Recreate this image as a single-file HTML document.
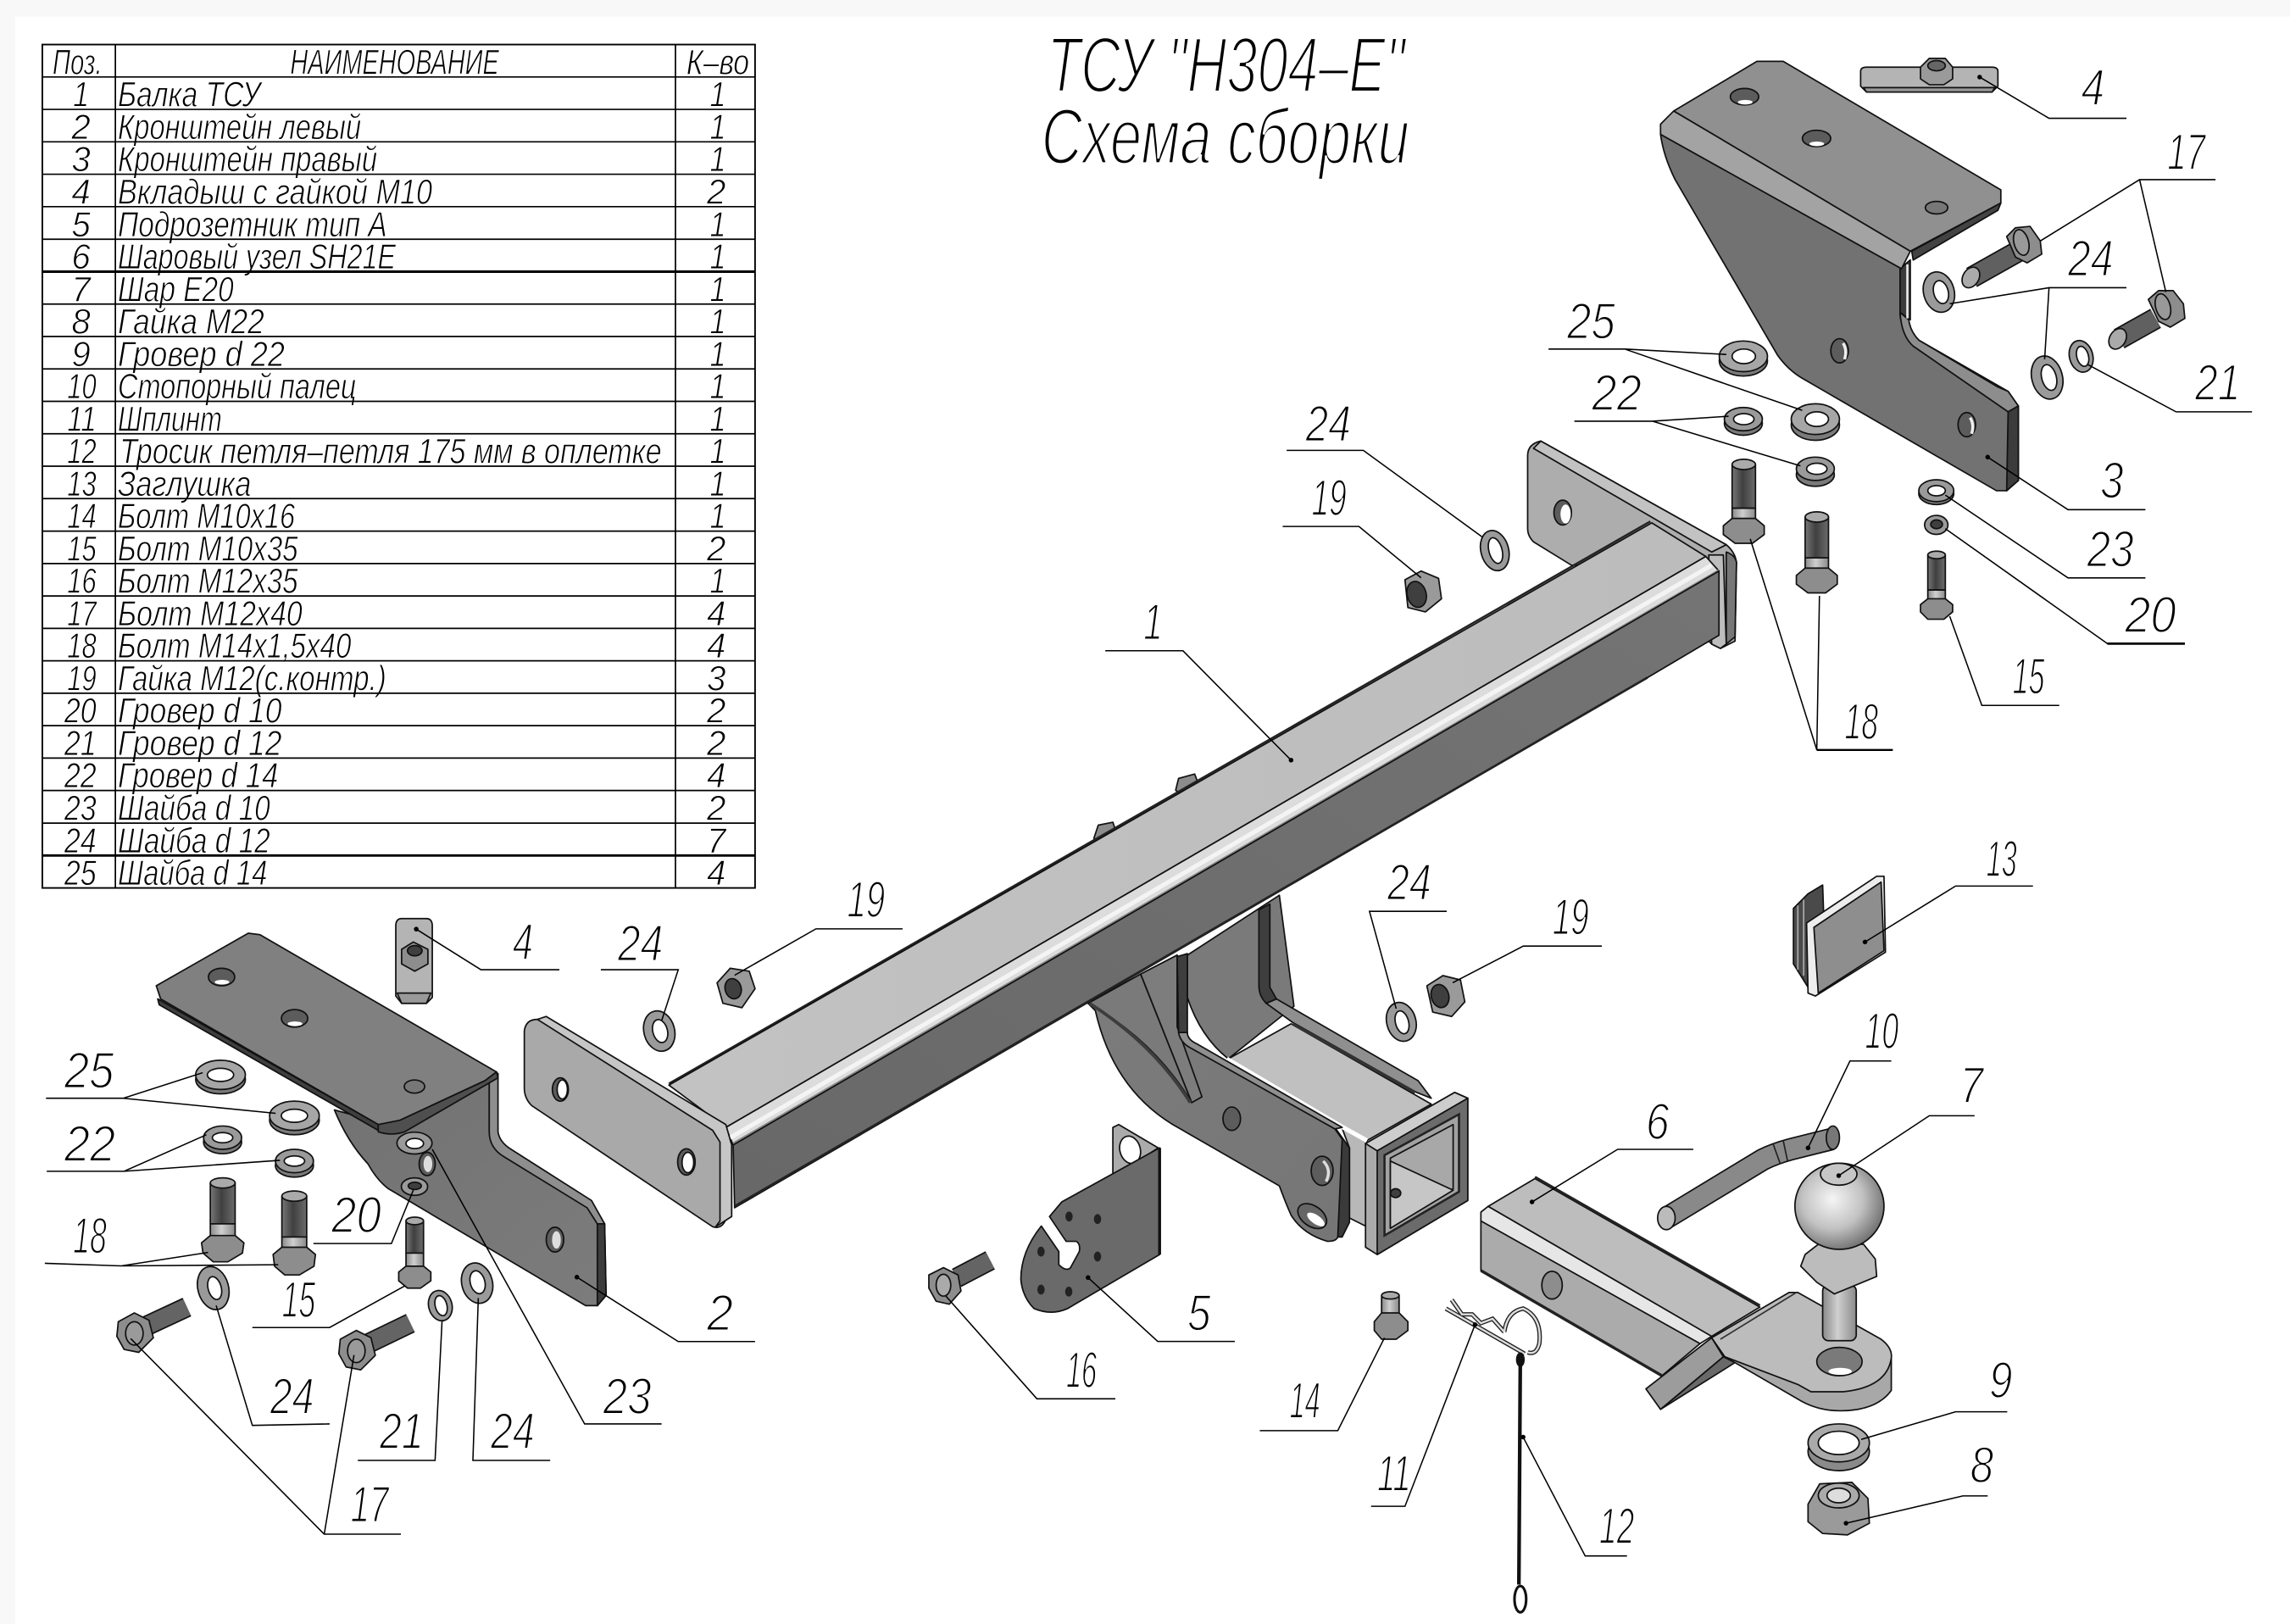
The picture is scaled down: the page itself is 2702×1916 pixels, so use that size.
<!DOCTYPE html>
<html lang="ru"><head><meta charset="utf-8"><title>ТСУ Н304-Е</title>
<style>
html,body{margin:0;padding:0;background:#f8f8f8}
svg{display:block;width:2702px;height:1916px}
text{font-family:"Liberation Sans","DejaVu Sans",sans-serif;font-style:italic;fill:#000}
.t{font-size:24px;stroke:#fff;stroke-width:.55px}
.l{font-size:35px;stroke:#fff;stroke-width:1.1px}
.b{font-size:54px;stroke:#fff;stroke-width:1.9px}
.s{stroke:#111;stroke-width:1;stroke-linejoin:round}
.w{fill:#9a9a9a;stroke:#111;stroke-width:1}
.d{fill:#5c5c5c;stroke:#111;stroke-width:1}
.h{fill:#fff;stroke:#111;stroke-width:1}
.o{fill:#3f3f3f;stroke:#111;stroke-width:1}
.x{fill:#8d8d8d;stroke:#111;stroke-width:1;stroke-linejoin:round}
.ld{fill:none;stroke:#000;stroke-width:.9}
.tb{stroke:#000;stroke-width:1}
</style></head><body>
<svg viewBox="0 0 1568 1112" preserveAspectRatio="none" xmlns="http://www.w3.org/2000/svg">
<defs>
<linearGradient id="side" x1="0" y1="1" x2="1" y2="0"><stop offset="0" stop-color="#686868"/><stop offset="1" stop-color="#747474"/></linearGradient>
<linearGradient id="top" x1="0" y1="0" x2="1" y2="0"><stop offset="0" stop-color="#c2c2c2"/><stop offset="1" stop-color="#bcbcbc"/></linearGradient>
<linearGradient id="plate" x1="0" y1="0" x2="1" y2="1"><stop offset="0" stop-color="#727272"/><stop offset="1" stop-color="#7c7c7c"/></linearGradient>
<linearGradient id="plate2" x1="0" y1="0" x2="1" y2="1"><stop offset="0" stop-color="#7c7c7c"/><stop offset="1" stop-color="#767676"/></linearGradient>
<linearGradient id="shaft" x1="0" y1="0" x2="1" y2="0"><stop offset="0" stop-color="#777"/><stop offset=".45" stop-color="#404040"/><stop offset="1" stop-color="#6c6c6c"/></linearGradient>
<linearGradient id="shaft2" x1="0" y1="0" x2="1" y2="0"><stop offset="0" stop-color="#8a8a8a"/><stop offset=".45" stop-color="#cfcfcf"/><stop offset="1" stop-color="#8a8a8a"/></linearGradient>
<radialGradient id="ball" cx=".42" cy=".42" r=".62"><stop offset="0" stop-color="#f5f5f5"/><stop offset=".55" stop-color="#c2c2c2"/><stop offset="1" stop-color="#6d6d6d"/></radialGradient>
</defs>
<rect width="1568" height="1112" fill="#f8f8f8"/>
<rect x="10.4" y="11.4" width="1558" height="1101" fill="#fff"/>

<!-- table text -->
<text class="t" x="36" y="50.7" textLength="34" lengthAdjust="spacingAndGlyphs">Поз.</text>
<text class="t" x="198.7" y="50.7" textLength="143" lengthAdjust="spacingAndGlyphs">НАИМЕНОВАНИЕ</text>
<text class="t" x="470" y="50.7" textLength="43" lengthAdjust="spacingAndGlyphs">К–во</text>

<text class="t" x="50" y="72.9" textLength="11" lengthAdjust="spacingAndGlyphs">1</text><text class="t" x="80.7" y="72.9" textLength="97.7" lengthAdjust="spacingAndGlyphs">Балка ТСУ</text><text class="t" x="486" y="72.9" textLength="11" lengthAdjust="spacingAndGlyphs">1</text>
<text class="t" x="49" y="95.1" textLength="13" lengthAdjust="spacingAndGlyphs">2</text><text class="t" x="80.7" y="95.1" textLength="166.6" lengthAdjust="spacingAndGlyphs">Кронштейн левый</text><text class="t" x="486" y="95.1" textLength="11" lengthAdjust="spacingAndGlyphs">1</text>
<text class="t" x="49" y="117.3" textLength="13" lengthAdjust="spacingAndGlyphs">3</text><text class="t" x="80.7" y="117.3" textLength="177.6" lengthAdjust="spacingAndGlyphs">Кронштейн правый</text><text class="t" x="486" y="117.3" textLength="11" lengthAdjust="spacingAndGlyphs">1</text>
<text class="t" x="49" y="139.5" textLength="13" lengthAdjust="spacingAndGlyphs">4</text><text class="t" x="80.7" y="139.5" textLength="215.3" lengthAdjust="spacingAndGlyphs">Вкладыш с гайкой М10</text><text class="t" x="484" y="139.5" textLength="13" lengthAdjust="spacingAndGlyphs">2</text>
<text class="t" x="49" y="161.8" textLength="13" lengthAdjust="spacingAndGlyphs">5</text><text class="t" x="80.7" y="161.8" textLength="184.3" lengthAdjust="spacingAndGlyphs">Подрозетник тип А</text><text class="t" x="486" y="161.8" textLength="11" lengthAdjust="spacingAndGlyphs">1</text>
<text class="t" x="49" y="184" textLength="13" lengthAdjust="spacingAndGlyphs">6</text><text class="t" x="80.7" y="184" textLength="190.3" lengthAdjust="spacingAndGlyphs">Шаровый узел SH21E</text><text class="t" x="486" y="184" textLength="11" lengthAdjust="spacingAndGlyphs">1</text>
<text class="t" x="49" y="206.2" textLength="13" lengthAdjust="spacingAndGlyphs">7</text><text class="t" x="80.7" y="206.2" textLength="79.3" lengthAdjust="spacingAndGlyphs">Шар Е20</text><text class="t" x="486" y="206.2" textLength="11" lengthAdjust="spacingAndGlyphs">1</text>
<text class="t" x="49" y="228.4" textLength="13" lengthAdjust="spacingAndGlyphs">8</text><text class="t" x="80.7" y="228.4" textLength="100.3" lengthAdjust="spacingAndGlyphs">Гайка М22</text><text class="t" x="486" y="228.4" textLength="11" lengthAdjust="spacingAndGlyphs">1</text>
<text class="t" x="49" y="250.6" textLength="13" lengthAdjust="spacingAndGlyphs">9</text><text class="t" x="80.7" y="250.6" textLength="114.3" lengthAdjust="spacingAndGlyphs">Гровер d 22</text><text class="t" x="486" y="250.6" textLength="11" lengthAdjust="spacingAndGlyphs">1</text>
<text class="t" x="46" y="272.8" textLength="20" lengthAdjust="spacingAndGlyphs">10</text><text class="t" x="80.7" y="272.8" textLength="163.3" lengthAdjust="spacingAndGlyphs">Стопорный палец</text><text class="t" x="486" y="272.8" textLength="11" lengthAdjust="spacingAndGlyphs">1</text>
<text class="t" x="46" y="295" textLength="20" lengthAdjust="spacingAndGlyphs">11</text><text class="t" x="80.7" y="295" textLength="71.3" lengthAdjust="spacingAndGlyphs">Шплинт</text><text class="t" x="486" y="295" textLength="11" lengthAdjust="spacingAndGlyphs">1</text>
<text class="t" x="46" y="317.2" textLength="20" lengthAdjust="spacingAndGlyphs">12</text><text class="t" x="82" y="317.2" textLength="371" lengthAdjust="spacingAndGlyphs">Тросик петля–петля 175 мм в оплетке</text><text class="t" x="486" y="317.2" textLength="11" lengthAdjust="spacingAndGlyphs">1</text>
<text class="t" x="46" y="339.4" textLength="20" lengthAdjust="spacingAndGlyphs">13</text><text class="t" x="80.7" y="339.4" textLength="91.3" lengthAdjust="spacingAndGlyphs">Заглушка</text><text class="t" x="486" y="339.4" textLength="11" lengthAdjust="spacingAndGlyphs">1</text>
<text class="t" x="46" y="361.7" textLength="20" lengthAdjust="spacingAndGlyphs">14</text><text class="t" x="80.7" y="361.7" textLength="121.3" lengthAdjust="spacingAndGlyphs">Болт М10х16</text><text class="t" x="486" y="361.7" textLength="11" lengthAdjust="spacingAndGlyphs">1</text>
<text class="t" x="46" y="383.9" textLength="20" lengthAdjust="spacingAndGlyphs">15</text><text class="t" x="80.7" y="383.9" textLength="123.3" lengthAdjust="spacingAndGlyphs">Болт М10х35</text><text class="t" x="484" y="383.9" textLength="13" lengthAdjust="spacingAndGlyphs">2</text>
<text class="t" x="46" y="406.1" textLength="20" lengthAdjust="spacingAndGlyphs">16</text><text class="t" x="80.7" y="406.1" textLength="123.3" lengthAdjust="spacingAndGlyphs">Болт М12х35</text><text class="t" x="486" y="406.1" textLength="11" lengthAdjust="spacingAndGlyphs">1</text>
<text class="t" x="46" y="428.3" textLength="20" lengthAdjust="spacingAndGlyphs">17</text><text class="t" x="80.7" y="428.3" textLength="126.3" lengthAdjust="spacingAndGlyphs">Болт М12х40</text><text class="t" x="484" y="428.3" textLength="13" lengthAdjust="spacingAndGlyphs">4</text>
<text class="t" x="46" y="450.5" textLength="20" lengthAdjust="spacingAndGlyphs">18</text><text class="t" x="80.7" y="450.5" textLength="159.8" lengthAdjust="spacingAndGlyphs">Болт М14х1,5х40</text><text class="t" x="484" y="450.5" textLength="13" lengthAdjust="spacingAndGlyphs">4</text>
<text class="t" x="46" y="472.7" textLength="20" lengthAdjust="spacingAndGlyphs">19</text><text class="t" x="80.7" y="472.7" textLength="183.8" lengthAdjust="spacingAndGlyphs">Гайка М12(с.контр.)</text><text class="t" x="484" y="472.7" textLength="13" lengthAdjust="spacingAndGlyphs">3</text>
<text class="t" x="44" y="494.9" textLength="22" lengthAdjust="spacingAndGlyphs">20</text><text class="t" x="80.7" y="494.9" textLength="112.3" lengthAdjust="spacingAndGlyphs">Гровер d 10</text><text class="t" x="484" y="494.9" textLength="13" lengthAdjust="spacingAndGlyphs">2</text>
<text class="t" x="44" y="517.1" textLength="22" lengthAdjust="spacingAndGlyphs">21</text><text class="t" x="80.7" y="517.1" textLength="112.3" lengthAdjust="spacingAndGlyphs">Гровер d 12</text><text class="t" x="484" y="517.1" textLength="13" lengthAdjust="spacingAndGlyphs">2</text>
<text class="t" x="44" y="539.3" textLength="22" lengthAdjust="spacingAndGlyphs">22</text><text class="t" x="80.7" y="539.3" textLength="109.8" lengthAdjust="spacingAndGlyphs">Гровер d 14</text><text class="t" x="484" y="539.3" textLength="13" lengthAdjust="spacingAndGlyphs">4</text>
<text class="t" x="44" y="561.6" textLength="22" lengthAdjust="spacingAndGlyphs">23</text><text class="t" x="80.7" y="561.6" textLength="104.3" lengthAdjust="spacingAndGlyphs">Шайба d 10</text><text class="t" x="484" y="561.6" textLength="13" lengthAdjust="spacingAndGlyphs">2</text>
<text class="t" x="44" y="583.8" textLength="22" lengthAdjust="spacingAndGlyphs">24</text><text class="t" x="80.7" y="583.8" textLength="104.3" lengthAdjust="spacingAndGlyphs">Шайба d 12</text><text class="t" x="484" y="583.8" textLength="13" lengthAdjust="spacingAndGlyphs">7</text>
<text class="t" x="44" y="606" textLength="22" lengthAdjust="spacingAndGlyphs">25</text><text class="t" x="80.7" y="606" textLength="102.3" lengthAdjust="spacingAndGlyphs">Шайба d 14</text><text class="t" x="484" y="606" textLength="13" lengthAdjust="spacingAndGlyphs">4</text>

<!-- table lines -->
<g class="tb" fill="none">
<rect x="29" y="30.5" width="488" height="577.5" stroke="#000" stroke-width="1.1"/>
<path stroke="#000" stroke-width="1" d="M79 30.5V608M462.5 30.5V608M29 52.7H517M29 74.9H517M29 97.1H517M29 119.3H517M29 141.5H517M29 163.8H517M29 208.2H517M29 230.4H517M29 252.6H517M29 274.8H517M29 297H517M29 319.2H517M29 341.4H517M29 363.7H517M29 385.9H517M29 408.1H517M29 430.3H517M29 452.5H517M29 474.7H517M29 496.9H517M29 519.1H517M29 541.3H517M29 563.6H517"/>
<path stroke="#000" stroke-width="1.7" d="M29 186H517M29 585.8H517"/>
</g>

<!-- title -->
<text class="b" x="717" y="63" textLength="245" lengthAdjust="spacingAndGlyphs">ТСУ "Н304–Е"</text>
<text class="b" x="713" y="112" textLength="252" lengthAdjust="spacingAndGlyphs">Схема сборки</text>

<!-- rear bracket plate -->
<path class="s" fill="#7a7a7a" d="M813 654L876 613L886 689L841 725Q822 710 813 683Z"/>
<!-- receiver top -->
<path class="s" fill="#c0c0c0" d="M841 725L884 701L980 756L936 781Z"/>
<path class="s" fill="#8f8f8f" d="M867 687L874 684L971 740L980 752L970 748L885 700Z"/>
<path d="M885 701L969 748" stroke="#333" stroke-width="2" fill="none"/>
<path class="s" fill="#3e3e3e" d="M862 623L869.5 619L869.5 676L874 684L867 687Q862 682 862 675Z"/>
<!-- receiver side -->
<path class="s" fill="#b8b8b8" d="M918 770L936 781L936 840L924 834L924 786Z"/>
<path d="M840 725L918 771L936 781" stroke="#fff" stroke-width="3" fill="none"/>
<!-- front plate -->
<path class="s" fill="#3a3a3a" d="M914 772L924 786L924 837L919 847L914 847Z"/>
<path class="s" fill="url(#plate2)" d="M750 692Q762 745 803 770L876 812Q880 823 884 832Q892 845 909 850Q915 850 916 847L919 780L914 773L820 717Q813 712 813 708L806 654L781 667L745 687Z"/>
<path class="s" fill="#7d7d7d" d="M781 667L806 654L806 703L823 751L816 755Z"/>
<path class="s" fill="#7a7a7a" d="M745 687L781 667L816 755Q790 712 745 687Z"/>
<path d="M746 687Q790 715 815 755" stroke="#3d3d3d" stroke-width="2.2" fill="none"/>
<path class="s" fill="#3e3e3e" d="M806 655L813 653L813 707L807 707Z"/>
<path class="s" fill="#8f8f8f" d="M807 707L813 707Q813 712 820 715L919 772L914 773L816 718Q808 714 807 707Z"/>
<ellipse class="s" cx="843.4" cy="766" rx="6" ry="8" fill="#5c5c5c"/>
<ellipse class="s" cx="905.3" cy="801.7" rx="7.5" ry="10" fill="#5c5c5c"/>
<path d="M906 795Q912 801 908 809" stroke="#ddd" stroke-width="2" fill="none"/>
<ellipse class="s" cx="898.5" cy="832.7" rx="11" ry="7" fill="#666" transform="rotate(35 898.5 832.7)"/>
<ellipse cx="901" cy="835" rx="7" ry="3" fill="#fff" transform="rotate(35 901 835)"/>
<!-- receiver flange -->
<path class="s" fill="#ababab" d="M935 783L996 748L1005 752L1005 822L943 859L935 854Z"/>
<path class="s" fill="#cdcdcd" d="M935 783L996 748L1005 752L943 788Z"/>
<path class="s" fill="#6b6b6b" d="M943 788L1005 752L1005 822L943 859Z"/>
<path class="s" fill="#a2a2a2" d="M948 791L999 763L999 816L948 846Z"/>
<path d="M948 791L999 763L999 816L948 846Z" fill="none" stroke="#222" stroke-width="1.5"/>
<path class="s" fill="#a8a8a8" d="M952 793L995 770L995 814L952 841Z"/>
<path class="s" fill="#c6c6c6" d="M952 795L995 815L952 841Z"/>
<ellipse class="o" cx="955.6" cy="817" rx="3.5" ry="3"/>

<!-- beam ears -->
<path class="s" fill="#8c8c8c" d="M749 574L752 565L762 563L765 572L754 580Z"/>
<path class="s" fill="#8c8c8c" d="M805 541L807 533L818 530L821 538L810 546Z"/>

<!-- right flange -->
<path class="s" fill="#adadad" d="M1046 312Q1046 304 1055 302L1182 373Q1188 378 1189 385L1188 439L1178 444L1172 441L1120 387L1076 387L1050 371Q1046 367 1046 362Z"/>
<path class="s" fill="#c2c2c2" d="M1055 302L1182 373L1172 378L1050 307Z"/>
<path class="s" fill="#777" d="M1182 378Q1188 380 1189 385L1188 436L1182 441Z"/>
<path class="s" fill="#bdbdbd" d="M1170 380L1180 380L1182 441L1178 444L1172 441Z"/>
<ellipse class="s" cx="1070" cy="351" rx="6" ry="8.5" fill="#5c5c5c"/>
<ellipse cx="1072" cy="352" rx="3.5" ry="6.5" fill="#fff"/>
<!-- beam -->
<path d="M458 742L1130 357" stroke="#222" stroke-width="1.4" fill="none"/>
<path class="s" fill="url(#top)" d="M458 743L1131 358L1168 381L497 772Z"/>
<path class="s" fill="#dcdcdc" d="M497 772L1168 381L1177 391L502 784Z"/>
<path d="M500 779L1172 387" stroke="#f4f4f4" stroke-width="3" fill="none"/>
<path d="M502 783L1177 390.5" stroke="#888" stroke-width="1.5" fill="none"/>
<path class="s" fill="url(#side)" d="M502 784L1177 391L1177 435L1128 464L503 827Z"/>
<path d="M503 826L1128 464" stroke="#222" stroke-width="1.6" fill="none"/>
<!-- left flange plate -->
<path class="s" fill="#a9a9a9" d="M359 706Q360 698 368 698L491 770Q497 774 497 784L497 835Q494 842 488 840L364 757Q359 752 359 745Z"/>
<path class="s" fill="#c6c6c6" d="M368 698L374 696L497 770L501 784L501 833L490 840L493 836L493 782L488 774Z"/>
<ellipse class="d" cx="383.7" cy="746" rx="5.5" ry="8"/><ellipse class="h" cx="385" cy="746" rx="3.5" ry="6.5"/>
<ellipse class="d" cx="470" cy="795.6" rx="6" ry="9"/><ellipse class="h" cx="471" cy="796" rx="4" ry="7"/>

<!-- part 3 -->
<path class="s" fill="#727272" d="M1137 92Q1139 107 1147 123L1217 243Q1224 253 1234 259L1367 336L1374 336L1382 329L1382 278L1375 268L1314 233Q1301 227 1301 214L1302 184Z"/>
<path class="s" fill="#8d8d8d" d="M1314 233L1368 265L1375 268L1382 278L1375 282L1310 237Q1302 230 1301 214L1307 219Q1308 227 1314 233Z"/>
<path class="s" fill="#3c3c3c" d="M1301 184L1308 178L1308 219L1301 214Z"/>
<path d="M1306 181L1306 218" stroke="#eee" stroke-width="1.5" fill="none"/>
<path class="s" fill="#3c3c3c" d="M1375 282L1382 278L1382 329L1374 336Z"/>
<path class="s" fill="#909090" d="M1146 76L1203 42L1221 42L1370 130L1370 139L1308 172Z"/>
<path class="s" fill="#a3a3a3" d="M1146 76L1308 172L1302 184L1137 92L1137 85Z"/>
<path class="s" fill="#434343" d="M1309 172L1370 139L1368 144L1310 178Z"/>
<ellipse class="d" cx="1194.5" cy="66.2" rx="9.7" ry="5.6"/><ellipse cx="1195" cy="70" rx="5" ry="1.6" fill="#fff"/>
<ellipse class="d" cx="1243.8" cy="94.8" rx="9.7" ry="5.6"/><ellipse cx="1244" cy="98.5" rx="5" ry="1.6" fill="#fff"/>
<ellipse class="d" cx="1326" cy="142.2" rx="7.7" ry="4.3" style="fill:#777"/>
<ellipse class="d" cx="1259.6" cy="240.2" rx="6" ry="8.3"/>
<path d="M1262 235Q1265 240 1263 246" stroke="#eee" stroke-width="2" fill="none"/>
<ellipse class="d" cx="1346.7" cy="290.8" rx="6" ry="8.3"/>
<path d="M1349 286Q1352 291 1350 297" stroke="#eee" stroke-width="2" fill="none"/>

<!-- part 4 top -->
<path class="s" fill="#b4b4b4" d="M1274 49Q1274 46 1278 46L1364 46Q1368 46 1368 49L1368 59L1364 63L1278 63L1274 59Z"/>
<path class="s" fill="#999" d="M1276 60L1366 60L1364 63L1278 63Z"/>
<polygon class="x" points="1315,46 1321,40 1332,40 1337,46 1337,54 1331,58 1321,58 1315,54" style="fill:#9a9a9a"/>
<ellipse class="s" cx="1326" cy="45" rx="6" ry="3.5" fill="#666"/>

<!-- bolts 17 right -->
<path d="M1350 190L1382 172" stroke="#111" stroke-width="15" fill="none"/><path d="M1350 190L1382 172" stroke="#606060" stroke-width="13" fill="none"/>
<ellipse class="s" cx="1349.5" cy="190" rx="5.5" ry="7.5" fill="#aaa" transform="rotate(30 1349.5 190)"/>
<polygon class="x" points="1374,162 1380,156 1390,155 1397,165 1398,174 1388,180 1380,176"/>
<ellipse class="s" cx="1384" cy="166" rx="5" ry="9" fill="#999" transform="rotate(-15 1384 166)"/>
<path d="M1451 232L1476 218" stroke="#111" stroke-width="15" fill="none"/><path d="M1451 232L1476 218" stroke="#606060" stroke-width="13" fill="none"/>
<ellipse class="s" cx="1450" cy="232" rx="5.5" ry="7.5" fill="#aaa" transform="rotate(30 1450 232)"/>
<polygon class="x" points="1471,205 1478,199 1488,199 1495,208 1496,218 1486,224 1478,220"/>
<ellipse class="s" cx="1481" cy="210" rx="5" ry="9" fill="#999" transform="rotate(-15 1481 210)"/>

<!-- washers upper right -->
<ellipse class="w" cx="1327.6" cy="200" rx="10.5" ry="14" transform="rotate(-15 1327.6 200)"/><ellipse class="h" cx="1329" cy="200" rx="5" ry="8" transform="rotate(-15 1329 200)"/>
<ellipse class="w" cx="1401.7" cy="258.5" rx="10.5" ry="15" transform="rotate(-15 1401.7 258.5)"/><ellipse class="h" cx="1403" cy="258.5" rx="5" ry="9" transform="rotate(-15 1403 258.5)"/>
<ellipse class="w" cx="1425" cy="244" rx="8" ry="11" transform="rotate(-15 1425 244)"/><ellipse class="h" cx="1426" cy="244" rx="4" ry="7" transform="rotate(-15 1426 244)"/>
<ellipse class="d" cx="1193.7" cy="247" rx="16.5" ry="10.5" style="fill:#7a7a7a"/><ellipse class="w" cx="1193.7" cy="244" rx="16.5" ry="10.5" style="fill:#a6a6a6"/><ellipse class="h" cx="1194" cy="244" rx="8" ry="5"/>
<ellipse class="d" cx="1243" cy="291" rx="16.5" ry="10.5" style="fill:#7a7a7a"/><ellipse class="w" cx="1243" cy="287" rx="16.5" ry="10.5" style="fill:#a6a6a6"/><ellipse class="h" cx="1244" cy="287" rx="8" ry="5"/>
<ellipse class="d" cx="1193.7" cy="290" rx="13" ry="8" style="fill:#7a7a7a"/><ellipse class="w" cx="1193.7" cy="287" rx="13" ry="8"/><ellipse class="h" cx="1194" cy="287" rx="7" ry="3.8"/>
<ellipse class="d" cx="1243" cy="325" rx="13" ry="8" style="fill:#7a7a7a"/><ellipse class="w" cx="1243" cy="321" rx="13" ry="8"/><ellipse class="h" cx="1244" cy="321" rx="7" ry="3.8"/>
<ellipse class="d" cx="1325.8" cy="338" rx="12" ry="7.5" style="fill:#7a7a7a"/><ellipse class="w" cx="1325.8" cy="336" rx="12" ry="7.5"/><ellipse class="h" cx="1326" cy="336" rx="6" ry="3.5"/>
<ellipse class="w" cx="1325.8" cy="359.4" rx="8" ry="6.5"/><ellipse class="o" cx="1326" cy="359" rx="4" ry="3"/>

<!-- bolts 18/15 right -->
<rect class="s" x="1186" y="318" width="16" height="30" fill="url(#shaft)"/>
<rect class="s" x="1186" y="348" width="16" height="12" fill="url(#shaft2)"/>
<ellipse class="s" cx="1194" cy="318" rx="8" ry="3.5" fill="#aaa"/>
<polygon class="x" points="1180,360 1186,355 1202,355 1208,360 1208,366 1200,372 1188,372 1180,366"/>
<rect class="s" x="1236" y="354" width="16" height="28" fill="url(#shaft)"/>
<rect class="s" x="1236" y="382" width="16" height="12" fill="url(#shaft2)"/>
<ellipse class="s" cx="1244" cy="354" rx="8" ry="3.5" fill="#aaa"/>
<polygon class="x" points="1230,394 1236,389 1252,389 1258,394 1258,400 1250,406 1238,406 1230,400"/>
<rect class="s" x="1320" y="380" width="12" height="24" fill="url(#shaft)"/>
<rect class="s" x="1320" y="404" width="12" height="8" fill="url(#shaft2)"/>
<ellipse class="s" cx="1326" cy="380" rx="6" ry="2.6" fill="#aaa"/>
<polygon class="x" points="1315,414 1320,410 1332,410 1337,414 1337,419 1331,424 1320,424 1315,419"/>

<!-- 24 & 19 near right flange -->
<ellipse class="w" cx="1023.5" cy="377" rx="9.5" ry="14" transform="rotate(-15 1023.5 377)"/><ellipse class="h" cx="1024" cy="377" rx="4.5" ry="9" transform="rotate(-15 1024 377)"/>
<polygon class="x" points="962,397 973,391 985,396 987,410 976,419 964,416" style="fill:#9a9a9a"/><ellipse class="o" cx="970" cy="407" rx="6.5" ry="9" transform="rotate(-15 970 407)"/>

<!-- part 2 -->
<path class="s" fill="url(#plate)" d="M229 760Q238 782 252 797Q258 808 266 814L401 894L409 894L415 887L414 838L405 824L346 790Q335 784 335 775L335 740L277 773Z"/>
<path class="s" fill="#8e8e8e" d="M335 740L341 735L341 775Q342 782 350 787L405 822L414 838L409 838L402 827L345 792Q335 786 335 775Z"/>
<path class="s" fill="#3c3c3c" d="M409 838L414 838L415 887L409 894Z"/>
<path class="s" fill="#808080" d="M107 675L170 639L178 640L340 734L332 740L274 767Q265 771 259 770L110 684Z"/>
<path class="s" fill="#3f3f3f" d="M108 684L259 770L259 774L109 688Z"/>
<path class="s" fill="#4f4f4f" d="M274 767L332 740L340 734L341 738L277 775Q268 778 259 775L259 770Z"/>
<ellipse class="d" cx="151.7" cy="669" rx="9" ry="6"/><ellipse cx="152" cy="672.5" rx="5" ry="1.6" fill="#fff"/>
<ellipse class="d" cx="201.7" cy="697.3" rx="9" ry="6"/><ellipse cx="202" cy="701" rx="5" ry="1.6" fill="#fff"/>
<ellipse class="d" cx="283.8" cy="744" rx="7" ry="4.5" style="fill:#777"/>
<ellipse class="d" cx="380" cy="848.8" rx="6" ry="8.5"/><ellipse cx="381" cy="849" rx="3" ry="6" fill="#ddd"/>
<ellipse class="d" cx="292.5" cy="797" rx="5.5" ry="8"/><ellipse cx="293" cy="797" rx="3" ry="5.5" fill="#ddd"/>

<!-- 4 left -->
<path class="s" fill="#b4b4b4" d="M271 634Q271 629 275 629L292 629Q296 629 296 634L296 683L292 687L275 687L271 682Z"/>
<path class="s" fill="#999" d="M272 680L295 680L292 687L275 687Z"/>
<polygon class="x" points="275,650 283,645 293,650 293,660 284,665 275,660"/><ellipse class="o" cx="284" cy="651" rx="5" ry="3.5"/>

<!-- hardware left -->
<polygon class="x" points="491,673 500,663 513,665 517,677 508,690 495,687" style="fill:#9a9a9a"/><ellipse class="o" cx="502" cy="677" rx="5.5" ry="7" transform="rotate(-15 502 677)"/>
<ellipse class="w" cx="451.4" cy="706" rx="10.5" ry="14" transform="rotate(-15 451.4 706)"/><ellipse class="h" cx="452" cy="706" rx="5" ry="8" transform="rotate(-15 452 706)"/>
<ellipse class="d" cx="151" cy="739" rx="17" ry="10" style="fill:#7a7a7a"/><ellipse class="w" cx="151" cy="736" rx="17" ry="10" style="fill:#a6a6a6"/><ellipse class="h" cx="151" cy="736" rx="9" ry="4.5"/>
<ellipse class="d" cx="201.6" cy="767" rx="17" ry="10" style="fill:#7a7a7a"/><ellipse class="w" cx="201.6" cy="764" rx="17" ry="10" style="fill:#a6a6a6"/><ellipse class="h" cx="201.6" cy="764" rx="9" ry="4.5"/>
<ellipse class="d" cx="152.4" cy="782" rx="13" ry="8" style="fill:#7a7a7a"/><ellipse class="w" cx="152.4" cy="779" rx="13" ry="8"/><ellipse class="h" cx="152.4" cy="779" rx="7" ry="3.5"/>
<ellipse class="d" cx="201.6" cy="798" rx="13" ry="8" style="fill:#7a7a7a"/><ellipse class="w" cx="201.6" cy="795" rx="13" ry="8"/><ellipse class="h" cx="201.6" cy="795" rx="7" ry="3.5"/>
<ellipse class="w" cx="283.8" cy="782.7" rx="12" ry="7.5"/><ellipse class="h" cx="284" cy="783" rx="6" ry="3.5"/>
<ellipse class="w" cx="283.8" cy="812.5" rx="9" ry="6"/><ellipse class="o" cx="284" cy="812" rx="4.5" ry="2.5"/>
<rect class="s" x="144" y="810" width="17" height="28" fill="url(#shaft)"/>
<rect class="s" x="144" y="838" width="17" height="13" fill="url(#shaft2)"/>
<ellipse class="s" cx="152.5" cy="810" rx="8.5" ry="3.5" fill="#aaa"/>
<polygon class="x" points="138,851 144,846 161,846 167,851 166,858 156,864 146,864 139,858"/>
<rect class="s" x="193" y="819" width="17" height="28" fill="url(#shaft)"/>
<rect class="s" x="193" y="847" width="17" height="12" fill="url(#shaft2)"/>
<ellipse class="s" cx="201.5" cy="819" rx="8.5" ry="3.5" fill="#aaa"/>
<polygon class="x" points="187,859 193,854 210,854 216,859 215,867 205,873 195,873 188,867"/>
<rect class="s" x="278" y="836" width="12" height="22" fill="url(#shaft)"/>
<rect class="s" x="278" y="858" width="12" height="10" fill="url(#shaft2)"/>
<ellipse class="s" cx="284" cy="836" rx="6" ry="2.6" fill="#aaa"/>
<polygon class="x" points="273,871 278,867 290,867 295,871 295,877 288,882 279,882 273,877"/>
<ellipse class="w" cx="146" cy="882" rx="10.5" ry="15" transform="rotate(-15 146 882)"/><ellipse class="h" cx="147" cy="882" rx="4.5" ry="8" transform="rotate(-15 147 882)"/>
<ellipse class="w" cx="326.7" cy="878.6" rx="10.5" ry="14" transform="rotate(-15 326.7 878.6)"/><ellipse class="h" cx="327" cy="878" rx="5" ry="8" transform="rotate(-15 327 878)"/>
<ellipse class="w" cx="301.5" cy="894" rx="8" ry="10.5" transform="rotate(-15 301.5 894)"/><ellipse class="h" cx="302" cy="894" rx="4" ry="7" transform="rotate(-15 302 894)"/>
<path d="M100 908L128 895" stroke="#111" stroke-width="14" fill="none"/><path d="M100 908L128 895" stroke="#646464" stroke-width="12" fill="none"/>
<polygon class="x" points="81,905 92,899 102,904 105,916 95,926 85,924 80,915"/><ellipse class="s" cx="92" cy="913" rx="6" ry="8" fill="#9a9a9a"/>
<path d="M252 920L281 906" stroke="#111" stroke-width="14" fill="none"/><path d="M252 920L281 906" stroke="#646464" stroke-width="12" fill="none"/>
<polygon class="x" points="233,917 244,911 254,916 257,928 247,938 237,936 232,927"/><ellipse class="s" cx="244" cy="925" rx="6" ry="8" fill="#9a9a9a"/>

<!-- part 5 -->
<path class="s" fill="#ababab" d="M762 772L766 770L793 786L762 806Z"/>
<ellipse class="h" cx="773.8" cy="787.3" rx="7" ry="9.5" transform="rotate(-15 773.8 787.3)"/>
<path class="s" fill="#6a6a6a" stroke-width="1.6" d="M794 786L794 859L731 896Q720 901 708 896Q700 888 699 876Q699 857 713 839.5L725 857L725 866Q730 871 733 868L739 857Q740 852 737 850L730 850L718.6 833L727 823Z"/>
<path d="M794 786L794 859" stroke="#111" stroke-width="2" fill="none"/>
<g fill="#222"><ellipse cx="732" cy="833" rx="2.5" ry="3.4"/><ellipse cx="751.5" cy="834.7" rx="2.5" ry="3.4"/><ellipse cx="712.8" cy="857" rx="2.5" ry="3.4"/><ellipse cx="751.5" cy="860.4" rx="2.5" ry="3.4"/><ellipse cx="712.8" cy="883" rx="2.5" ry="3.4"/><ellipse cx="731.8" cy="884.4" rx="2.5" ry="3.4"/></g>

<!-- bolt 16, 14 -->
<path d="M655 875L678 863" stroke="#111" stroke-width="14" fill="none"/><path d="M655 875L678 863" stroke="#646464" stroke-width="12" fill="none"/>
<polygon class="x" points="636,873 646,868 656,873 658,884 650,893 641,891 636,882"/>
<ellipse class="s" cx="646" cy="880" rx="5" ry="7.5" fill="#aaa"/>
<rect class="s" x="946" y="887" width="12" height="14" fill="url(#shaft2)"/>
<ellipse class="s" cx="952" cy="887" rx="6" ry="2.5" fill="#aaa"/>
<polygon class="x" points="941,905 946,899 958,899 964,905 964,911 956,917 946,917 941,911"/>

<!-- right hardware -->
<ellipse class="w" cx="959.5" cy="699.7" rx="10" ry="13.5" transform="rotate(-15 959.5 699.7)"/><ellipse class="h" cx="960" cy="700" rx="4.5" ry="8" transform="rotate(-15 960 700)"/>
<polygon class="x" points="977,675 988,668 1000,671 1003,686 994,696 981,693" style="fill:#9a9a9a"/><ellipse class="o" cx="986" cy="682" rx="6" ry="8" transform="rotate(-15 986 682)"/>

<!-- plug 13 -->
<path class="s" fill="#4a4a4a" d="M1228 622L1238 612L1248 606L1250 665L1238 676L1228 660Z"/>
<path d="M1231 620L1231 664M1235 616L1235 668" stroke="#aaa" stroke-width="1" fill="none"/>
<path class="s" fill="#ededed" d="M1237 632L1285 600L1290 600L1291 652L1243 682L1238 680Z"/>
<path class="s" fill="#8e8e8e" d="M1242 635L1288 604L1290 651L1245 680Z"/>

<!-- part 6 -->
<path class="s" fill="#696969" d="M1137 965L1180 929L1188 933Z"/>
<path class="s" fill="#ababab" d="M1014 835L1164 920L1138 942L1014 870Z"/>
<path d="M1014 870L1138 942" stroke="#222" stroke-width="2" fill="none"/>
<path class="s" fill="#e6e6e6" d="M1014 830L1019 826L1172 915L1164 920L1014 836Z"/>
<path class="s" fill="#bdbdbd" d="M1019 826L1051 807L1205 895L1172 915Z"/>
<path d="M1051 806L1205 894" stroke="#222" stroke-width="1.8" fill="none"/>
<ellipse class="s" cx="1062.7" cy="880" rx="7" ry="9.5" fill="#8d8d8d"/>
<path class="s" fill="#9c9c9c" d="M1127 951L1172 916L1180 929L1137 965Z"/>
<path class="s" fill="#a8a8a8" d="M1181 929L1231 958Q1244 966 1260 966Q1285 966 1295 952L1295 928L1181 922Z"/>
<path class="s" fill="#bcbcbc" d="M1172 916L1225 885L1231 885L1288 917Q1296 923 1295 930Q1292 950 1262 953L1240 953L1231 948L1181 929Z"/>
<path d="M1178 917L1230 885" stroke="#333" stroke-width="1" fill="none"/>
<ellipse class="s" cx="1259.5" cy="932.3" rx="15.5" ry="9.7" fill="#7a7a7a"/>
<ellipse cx="1260" cy="939" rx="8" ry="2.4" fill="#fff"/>
<!-- ball -->
<rect class="s" x="1248" y="880" width="23" height="38" rx="4" fill="url(#shaft2)"/>
<path class="s" fill="#bcbcbc" d="M1233 867L1236 859L1245 852L1276 852L1284 862L1285 874L1256 886L1244 878Z"/>
<ellipse cx="1259.5" cy="826" rx="30.5" ry="29.5" fill="url(#ball)" stroke="#111"/>
<ellipse class="s" cx="1259" cy="804" rx="12.5" ry="7.5" fill="#c6c6c6"/>
<!-- pin 10 -->
<path d="M1141 834L1207 794Q1215 790 1226 787L1254 780" stroke="#111" stroke-width="15.5" fill="none"/>
<path d="M1141 834L1207 794Q1215 790 1226 787L1254 780" stroke="#898989" stroke-width="13.5" fill="none"/>
<path d="M1214 783L1219 797M1221 781L1224 795" stroke="#222" stroke-width="1" fill="none"/>
<ellipse class="s" cx="1141" cy="834" rx="6" ry="8" fill="#bbb"/>
<ellipse class="s" cx="1255" cy="779" rx="4.5" ry="8" fill="#777"/>

<!-- 9, 8 -->
<ellipse class="d" cx="1259" cy="994" rx="21" ry="13" style="fill:#8a8a8a"/><ellipse class="w" cx="1259" cy="988" rx="21" ry="13" style="fill:#aaa"/><ellipse class="h" cx="1259" cy="988" rx="14" ry="8"/>
<polygon class="x" points="1238,1030 1246,1016 1268,1015 1279,1026 1280,1043 1265,1051 1248,1050 1238,1042" style="fill:#9a9a9a"/>
<ellipse class="s" cx="1259" cy="1024" rx="14" ry="8.5" fill="#aaa"/><ellipse class="h" cx="1259" cy="1024" rx="8" ry="5" style="fill:#ddd"/>

<!-- cotter & cable -->
<path d="M990 896L1044 927M994 890L1001 900L1008 900L1014 906L1022 903L1030 912M1030 912Q1032 898 1043 896Q1056 902 1054 920Q1052 928 1046 926" fill="none" stroke="#222" stroke-width="3"/>
<path d="M990 896L1044 927M994 890L1001 900L1008 900L1014 906L1022 903L1030 912M1030 912Q1032 898 1043 896Q1056 902 1054 920Q1052 928 1046 926" fill="none" stroke="#ddd" stroke-width="1.4"/>
<path d="M1041 928L1040 1085" stroke="#111" stroke-width="2.5" fill="none"/>
<ellipse cx="1041" cy="1095" rx="4" ry="9" fill="none" stroke="#111" stroke-width="1.8"/>
<ellipse cx="1041" cy="931" rx="3" ry="5" fill="#111"/>

<!-- leader dots -->
<g fill="#000">
<circle cx="1355.5" cy="52.8" r="1.6"/><circle cx="1361" cy="313" r="1.6"/><circle cx="884" cy="520.5" r="1.6"/><circle cx="1277" cy="645" r="1.6"/><circle cx="1238" cy="786" r="1.6"/><circle cx="1259" cy="805" r="1.6"/><circle cx="1049" cy="823" r="1.6"/><circle cx="745" cy="874.8" r="1.6"/><circle cx="395" cy="874.5" r="1.6"/><circle cx="285" cy="636.2" r="1.6"/><circle cx="1264" cy="1043" r="1.6"/><circle cx="1042.9" cy="984" r="1.6"/><circle cx="1010" cy="907" r="1.6"/>
</g>
<!-- leaders -->
<g class="ld">
<path d="M1355.5 52.8L1403 81H1456"/>
<path d="M1397 165L1465 123H1517M1465 123L1483 200"/>
<path d="M1335 208L1403 197H1456M1403 197L1400 246"/>
<path d="M1429.6 249.7L1490 282H1542"/>
<path d="M1361 313L1416 349H1469"/>
<path d="M1332 339L1416 395.7H1469"/>
<path d="M1332 362L1443 440.7H1496"/><path d="M1443 440.7H1496" stroke-width="1.6"/>
<path d="M1335 422L1357 483H1410"/>
<path d="M1198.4 369L1244 513.5L1245.8 408M1244 513.5H1296"/><path d="M1244 513.5H1296" stroke-width="1.4"/>
<path d="M1182 242.7L1112.5 239H1060.3M1112.5 239L1234 281"/>
<path d="M1183.6 285L1131.4 288.4H1078M1131.4 288.4L1232.8 319"/>
<path d="M1014.7 367.5L933.5 308.4H881"/>
<path d="M973 395.6L930.5 360.5H878.3"/>
<path d="M884 520.5L810 445.6H756.8"/>
<path d="M503 667.8L558.7 636H618"/>
<path d="M956 690.7L937.7 624H990.6"/>
<path d="M994.7 672.9L1043 647.8H1096.8"/>
<path d="M1277 645L1339 606.7H1392"/>
<path d="M1238 786L1266.7 726.5H1295"/>
<path d="M1259 805L1321 764H1352"/>
<path d="M1049 823L1107.6 787H1159.4"/>
<path d="M1274.4 985.6L1339 966.7H1374.4"/>
<path d="M1264 1043L1344 1024.3H1361"/>
<path d="M1042.9 984L1085.4 1065.4H1114"/>
<path d="M1010 907L962 1031.4H938.8"/>
<path d="M948 916L916 979.6H862.6"/>
<path d="M647.6 887.4L710 957.8H763.7"/>
<path d="M745 874.8L792.7 918.5H845.5"/>
<path d="M285 636.2L329.3 664H383"/>
<path d="M411.4 664H464.4L453 699"/>
<path d="M138.8 734.5L84.4 752H31.5M84.4 752L188.7 762.3"/>
<path d="M141.3 777L85 802H32M85 802L191.7 794.5"/>
<path d="M142.5 857.6L83 866.8L30.7 865M83 866.8L190.5 866"/>
<path d="M283 814.9L268 851.5H214.6"/>
<path d="M277.5 880.3L225.7 909H172.8"/>
<path d="M395 874.5L464.4 918.6H517"/>
<path d="M296 787L400.3 975H453"/>
<path d="M148 893.9L172.8 976L225.7 975"/>
<path d="M302.7 904L297.9 1000H245"/>
<path d="M327.5 888.8L323.8 1000H376.7"/>
<path d="M89.5 916.6L222 1050.5H274.5M222 1050.5L242.4 927.8"/>
</g>

<!-- labels -->
<text class="l" x="1425" y="72" textLength="16" lengthAdjust="spacingAndGlyphs">4</text>
<text class="l" x="1484" y="116" textLength="26" lengthAdjust="spacingAndGlyphs">17</text>
<text class="l" x="1416" y="189" textLength="31" lengthAdjust="spacingAndGlyphs">24</text>
<text class="l" x="1503" y="274" textLength="31" lengthAdjust="spacingAndGlyphs">21</text>
<text class="l" x="1438" y="341" textLength="16" lengthAdjust="spacingAndGlyphs">3</text>
<text class="l" x="1429" y="388" textLength="32" lengthAdjust="spacingAndGlyphs">23</text>
<text class="l" x="1455" y="433" textLength="35" lengthAdjust="spacingAndGlyphs">20</text>
<text class="l" x="1378" y="475" textLength="22" lengthAdjust="spacingAndGlyphs">15</text>
<text class="l" x="1263" y="506" textLength="23" lengthAdjust="spacingAndGlyphs">18</text>
<text class="l" x="1073" y="232" textLength="33" lengthAdjust="spacingAndGlyphs">25</text>
<text class="l" x="1090" y="281" textLength="34" lengthAdjust="spacingAndGlyphs">22</text>
<text class="l" x="894" y="302" textLength="31" lengthAdjust="spacingAndGlyphs">24</text>
<text class="l" x="898" y="353" textLength="24" lengthAdjust="spacingAndGlyphs">19</text>
<text class="l" x="783" y="438" textLength="13" lengthAdjust="spacingAndGlyphs">1</text>
<text class="l" x="580" y="628" textLength="26" lengthAdjust="spacingAndGlyphs">19</text>
<text class="l" x="950" y="616" textLength="30" lengthAdjust="spacingAndGlyphs">24</text>
<text class="l" x="1063" y="640" textLength="25" lengthAdjust="spacingAndGlyphs">19</text>
<text class="l" x="1360" y="600" textLength="21" lengthAdjust="spacingAndGlyphs">13</text>
<text class="l" x="1277" y="718" textLength="23" lengthAdjust="spacingAndGlyphs">10</text>
<text class="l" x="1342" y="755" textLength="16" lengthAdjust="spacingAndGlyphs">7</text>
<text class="l" x="1127" y="780" textLength="16" lengthAdjust="spacingAndGlyphs">6</text>
<text class="l" x="1362" y="957" textLength="16" lengthAdjust="spacingAndGlyphs">9</text>
<text class="l" x="1349" y="1015" textLength="16" lengthAdjust="spacingAndGlyphs">8</text>
<text class="l" x="1095" y="1057" textLength="24" lengthAdjust="spacingAndGlyphs">12</text>
<text class="l" x="943" y="1021" textLength="23" lengthAdjust="spacingAndGlyphs">11</text>
<text class="l" x="883" y="971" textLength="21" lengthAdjust="spacingAndGlyphs">14</text>
<text class="l" x="730" y="950" textLength="21" lengthAdjust="spacingAndGlyphs">16</text>
<text class="l" x="813" y="911" textLength="16" lengthAdjust="spacingAndGlyphs">5</text>
<text class="l" x="351" y="657" textLength="14" lengthAdjust="spacingAndGlyphs">4</text>
<text class="l" x="423" y="658" textLength="31" lengthAdjust="spacingAndGlyphs">24</text>
<text class="l" x="44" y="745" textLength="34" lengthAdjust="spacingAndGlyphs">25</text>
<text class="l" x="44" y="795" textLength="35" lengthAdjust="spacingAndGlyphs">22</text>
<text class="l" x="50" y="858" textLength="23" lengthAdjust="spacingAndGlyphs">18</text>
<text class="l" x="227" y="844" textLength="34" lengthAdjust="spacingAndGlyphs">20</text>
<text class="l" x="193" y="902" textLength="23" lengthAdjust="spacingAndGlyphs">15</text>
<text class="l" x="484" y="911" textLength="18" lengthAdjust="spacingAndGlyphs">2</text>
<text class="l" x="413" y="968" textLength="33" lengthAdjust="spacingAndGlyphs">23</text>
<text class="l" x="185" y="968" textLength="30" lengthAdjust="spacingAndGlyphs">24</text>
<text class="l" x="260" y="992" textLength="30" lengthAdjust="spacingAndGlyphs">21</text>
<text class="l" x="336" y="992" textLength="30" lengthAdjust="spacingAndGlyphs">24</text>
<text class="l" x="240" y="1042" textLength="26" lengthAdjust="spacingAndGlyphs">17</text>
</svg>
</body></html>
